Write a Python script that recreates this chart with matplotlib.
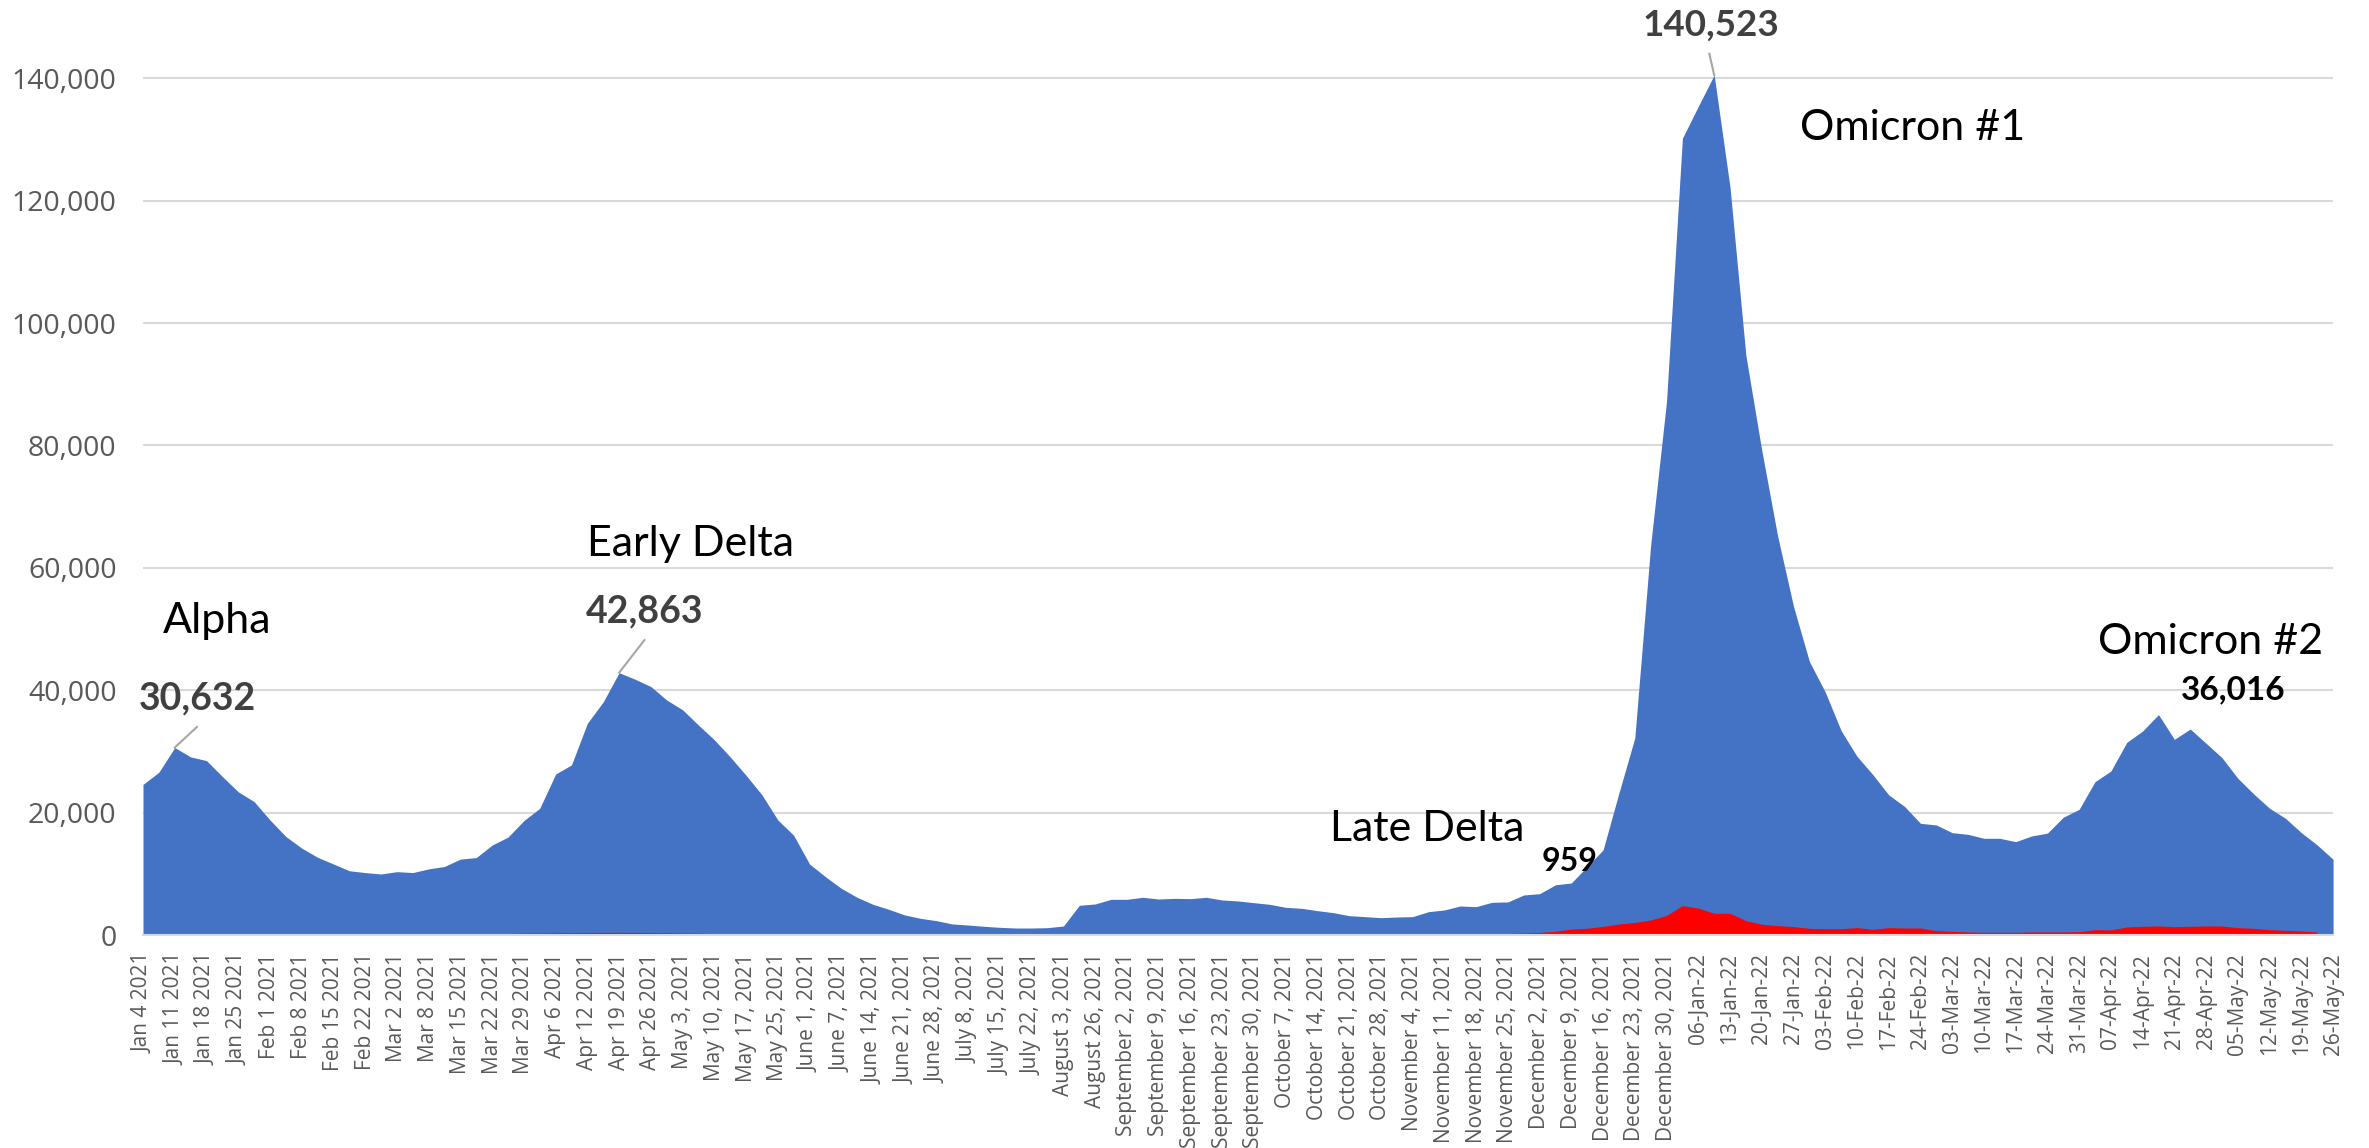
import matplotlib
matplotlib.use("Agg")
import matplotlib.pyplot as plt
import numpy as np

# Category labels (shown on every other data point)
tick_labels = [
    "Jan 4 2021", "Jan 11 2021", "Jan 18 2021", "Jan 25 2021", "Feb 1 2021", "Feb 8 2021",
    "Feb 15 2021", "Feb 22 2021", "Mar 2 2021", "Mar 8 2021", "Mar 15 2021", "Mar 22 2021",
    "Mar 29 2021", "Apr 6 2021", "Apr 12 2021", "Apr 19 2021", "Apr 26 2021", "May 3, 2021",
    "May 10, 2021", "May 17, 2021", "May 25, 2021", "June 1, 2021", "June 7, 2021",
    "June 14, 2021", "June 21, 2021", "June 28, 2021", "July 8, 2021", "July 15, 2021",
    "July 22, 2021", "August 3, 2021", "August 26, 2021", "September 2, 2021",
    "September 9, 2021", "September 16, 2021", "September 23, 2021", "September 30, 2021",
    "October 7, 2021", "October 14, 2021", "October 21, 2021", "October 28, 2021",
    "November 4, 2021", "November 11, 2021", "November 18, 2021", "November 25, 2021",
    "December 2, 2021", "December 9, 2021", "December 16, 2021", "December 23, 2021",
    "December 30, 2021", "06-Jan-22", "13-Jan-22", "20-Jan-22", "27-Jan-22", "03-Feb-22",
    "10-Feb-22", "17-Feb-22", "24-Feb-22", "03-Mar-22", "10-Mar-22", "17-Mar-22",
    "24-Mar-22", "31-Mar-22", "07-Apr-22", "14-Apr-22", "21-Apr-22", "28-Apr-22",
    "05-May-22", "12-May-22", "19-May-22", "26-May-22",
]

# Cases (blue area)
cases = [
    24600, 26600, 30632, 29100, 28500, 25900, 23400, 21800, 18800, 16100,
    14200, 12700, 11600, 10500, 10200, 9970, 10350, 10200, 10800, 11200,
    12400, 12650, 14700, 16000, 18700, 20700, 26300, 27800, 34600, 38100,
    42863, 41800, 40600, 38400, 36800, 34300, 31900, 29100, 26100, 22900,
    18800, 16300, 11600, 9530, 7630, 6150, 5010, 4190, 3270, 2720,
    2340, 1800, 1630, 1420, 1250, 1140, 1140, 1200, 1470, 4850,
    5070, 5830, 5830, 6160, 5880, 5990, 5940, 6160, 5720, 5560,
    5280, 5010, 4520, 4360, 3980, 3650, 3160, 3000, 2830, 2940,
    3000, 3810, 4090, 4740, 4630, 5340, 5400, 6540, 6750, 8200,
    8500, 11200, 13900, 23200, 32200, 63700, 87200, 130200, 135400, 140523,
    122200, 94700, 79200, 65200, 53700, 44700, 39700, 33400, 29200, 26200,
    22900, 21000, 18250, 17980, 16720, 16450, 15800, 15800, 15250, 16180,
    16650, 19250, 20540, 25060, 26800, 31480, 33340, 36016, 31970, 33660,
    31320, 28980, 25600, 23040, 20700, 19070, 16720, 14710, 12370,
]

# Second series (red area); no value for the last point
second = [
    30, 30, 30, 30, 30, 30, 30, 30, 30, 30,
    40, 40, 40, 50, 50, 50, 60, 60, 70, 80,
    100, 150, 200, 250, 300, 330, 360, 380, 400, 420,
    430, 420, 400, 370, 330, 290, 250, 210, 170, 150,
    130, 110, 100, 90, 80, 70, 60, 60, 60, 60,
    60, 60, 60, 60, 60, 60, 60, 60, 60, 70,
    70, 70, 70, 70, 70, 70, 70, 70, 70, 70,
    70, 70, 70, 70, 70, 80, 80, 80, 90, 90,
    100, 120, 140, 160, 180, 210, 250, 320, 420, 600,
    959, 1100, 1400, 1800, 2050, 2450, 3200, 4800, 4400, 3550,
    3550, 2350, 1750, 1530, 1370, 1090, 1030, 1030, 1200, 930,
    1200, 1140, 1140, 710, 600, 490, 440, 440, 440, 490,
    490, 490, 550, 870, 820, 1310, 1420, 1470, 1360, 1420,
    1470, 1470, 1200, 1090, 870, 760, 650, 490, np.nan,
]

BLUE = "#4472C4"
RED = "#FF0000"
GRID = "#D9D9D9"
TICK = "#595959"
LEADER = "#A6A6A6"

x = np.arange(len(cases))
cases_arr = np.array(cases, dtype=float)
second_arr = np.array(second, dtype=float)

fig = plt.figure(figsize=(23.69, 11.48), dpi=100)
ax = fig.add_axes([0.06036, 0.18554, 0.92448, 0.74951])

ax.fill_between(x, 0, cases_arr, color=BLUE, linewidth=0, zorder=2)
valid = ~np.isnan(second_arr)
ax.fill_between(x[valid], 0, second_arr[valid], color=RED, linewidth=0, zorder=3)

ax.set_xlim(0, len(cases) - 1)
ax.set_ylim(0, 140600)

ax.set_yticks(np.arange(0, 140001, 20000))
ax.set_yticklabels([f"{v:,}" for v in range(0, 140001, 20000)],
                   fontsize=20.5, color=TICK, family="Open Sans")
ax.yaxis.grid(True, color=GRID, linewidth=1.5, zorder=0)
ax.set_axisbelow(True)

ax.set_xticks(np.arange(0, len(cases), 2))
ax.set_xticklabels(tick_labels, rotation=90, fontsize=15, color=TICK,
                   family="Open Sans", va="top", ha="center")

ax.tick_params(axis="both", length=0)
ax.tick_params(axis="y", pad=19)
ax.tick_params(axis="x", pad=13)

for side in ("top", "right", "left"):
    ax.spines[side].set_visible(False)
ax.spines["bottom"].set_color(GRID)
ax.spines["bottom"].set_linewidth(1.5)
ax.spines["bottom"].set_zorder(4)

label_font = dict(family="Lato", fontsize=31, color="black", ha="center", va="center")
value_font = dict(family="Lato", fontweight="bold", ha="center", va="center")

# Wave names
ax.text(4.7, 51300, "Alpha", **label_font)
ax.text(34.5, 63900, "Early Delta", **label_font)
ax.text(111.5, 131800, "Omicron #1", **label_font)
ax.text(80.9, 17240, "Late Delta", **label_font)
ax.text(130.3, 47900, "Omicron #2", **label_font)

# Peak values with leader lines
i_alpha = 2
ax.plot([i_alpha, 3.4], [cases[i_alpha], 34000], color=LEADER, lw=1.5, zorder=5)
ax.text(3.4, 38700, f"{cases[i_alpha]:,}", fontsize=27, color="#404040", **value_font)

i_delta = 30
ax.plot([i_delta, 31.6], [cases[i_delta], 48200], color=LEADER, lw=1.5, zorder=5)
ax.text(31.6, 52800, f"{cases[i_delta]:,}", fontsize=27, color="#404040", **value_font)

i_om1 = 99
ax.plot([i_om1, 98.7], [cases[i_om1], 144000], color=LEADER, lw=1.5, zorder=5,
        clip_on=False)
ax.text(98.8, 148600, f"{cases[i_om1]:,}", fontsize=26.5, color="#404040",
        clip_on=False, **value_font)

i_om2 = 127
ax.text(131.7, 40000, f"{cases[i_om2]:,}", fontsize=24, color="black", **value_font)

i_late = 90
ax.text(89.9, 12090, f"{int(second[i_late]):,}", fontsize=23, color="black", **value_font)

fig.savefig("out.png", dpi=100)
